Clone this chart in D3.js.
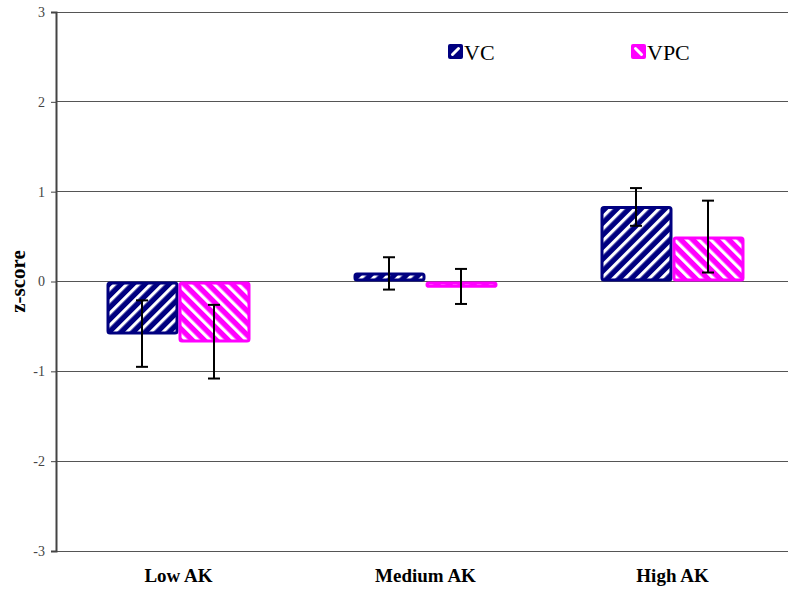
<!DOCTYPE html>
<html>
<head>
<meta charset="utf-8">
<script src="https://cdn.jsdelivr.net/npm/d3@7"></script>
<style>
  body { margin: 0; background: #fff; }
  svg { display: block; }
</style>
</head>
<body>
<svg id="chart" width="788" height="590"></svg>
<script>
// Mean z-scores with error bar bounds for each knowledge group
const categories = ["Low AK", "Medium AK", "High AK"];
const seriesNames = ["VC", "VPC"];
const vcValues = [-0.59, 0.10, 0.84];
const vpcValues = [-0.68, -0.07, 0.50];
const vcLow = [-0.95, -0.09, 0.62];
const vcHigh = [-0.21, 0.27, 1.04];
const vpcLow = [-1.08, -0.25, 0.10];
const vpcHigh = [-0.26, 0.14, 0.90];
const yTicks = [-3, -2, -1, 0, 1, 2, 3];

const colors = { VC: "#000080", VPC: "#ff00ff" };

const svg = d3.select("#chart");
const plotLeft = 56, plotTop = 12, plotBottom = 551, plotRight = 797;

const x = d3.scaleBand().domain(categories).range([plotLeft, plotRight]).paddingInner(0).paddingOuter(0);
const xs = d3.scaleBand().domain(seriesNames).range([0, 144]);
const y = d3.scaleLinear().domain([-3, 3]).range([plotBottom, plotTop]);

// Diagonal stripe fills
const defs = svg.append("defs");
function stripe(id, color, angle) {
  const p = defs.append("pattern")
    .attr("id", id).attr("patternUnits", "userSpaceOnUse")
    .attr("width", 8.5).attr("height", 8.5)
    .attr("patternTransform", `rotate(${angle})`);
  p.append("rect").attr("width", 8.5).attr("height", 8.5).attr("fill", color);
  p.append("rect").attr("x", 0).attr("width", 3.2).attr("height", 8.5).attr("fill", "#fff");
}
stripe("pat-VC", colors.VC, 45);
stripe("pat-VPC", colors.VPC, -45);

// Horizontal gridlines
svg.append("g").selectAll("line").data(yTicks).join("line")
  .attr("x1", plotLeft).attr("x2", plotRight)
  .attr("y1", d => y(d)).attr("y2", d => y(d))
  .attr("stroke", "#555").attr("stroke-width", 1)
  .attr("shape-rendering", "crispEdges");

// Y axis
const yAxis = d3.axisLeft(y).tickValues(yTicks).tickSize(5).tickFormat(d => String(d));
const gy = svg.append("g").attr("transform", `translate(${plotLeft},0)`).call(yAxis);
gy.select(".domain").attr("stroke", "#444").attr("stroke-width", 2);
gy.selectAll(".tick line").attr("stroke", "#444");
gy.selectAll(".tick text")
  .attr("font-family", "Liberation Serif, serif").attr("font-size", 14)
  .attr("fill", "#444").attr("dx", -3);

svg.append("text")
  .attr("transform", `translate(25,${y(0)}) rotate(-90)`)
  .attr("text-anchor", "middle")
  .attr("font-family", "Liberation Serif, serif").attr("font-weight", "bold")
  .attr("font-size", 21).attr("fill", "#000")
  .text("z-score");

// Category labels
svg.append("g").selectAll("text").data(categories).join("text")
  .attr("x", d => x(d) + x.bandwidth() / 2 - 1)
  .attr("y", 582)
  .attr("text-anchor", "middle")
  .attr("font-family", "Liberation Serif, serif").attr("font-weight", "bold")
  .attr("font-size", 19).attr("fill", "#000")
  .text(d => d);

// Bars
const rows = [];
categories.forEach((c, i) => {
  rows.push({ cat: c, s: "VC", v: vcValues[i], lo: vcLow[i], hi: vcHigh[i] });
  rows.push({ cat: c, s: "VPC", v: vpcValues[i], lo: vpcLow[i], hi: vpcHigh[i] });
});
const groupOffset = (x.bandwidth() - 144) / 2 - 1;
const bx = d => x(d.cat) + groupOffset + xs(d.s);

svg.append("g").selectAll("rect").data(rows).join("rect")
  .attr("x", d => bx(d) + 1.5)
  .attr("width", xs.bandwidth() - 3)
  .attr("y", d => Math.min(y(d.v), y(0)) + 1.5)
  .attr("height", d => Math.max(Math.abs(y(d.v) - y(0)) - 3, 1))
  .attr("rx", 2)
  .attr("fill", d => `url(#pat-${d.s})`)
  .attr("stroke", d => colors[d.s]).attr("stroke-width", 3);

// Error bars
const eb = svg.append("g").attr("stroke", "#000").attr("stroke-width", 2);
rows.forEach(d => {
  const cx = bx(d) + xs.bandwidth() / 2 - 0.5;
  eb.append("line").attr("x1", cx).attr("x2", cx).attr("y1", y(d.hi)).attr("y2", y(d.lo));
  eb.append("line").attr("x1", cx - 6).attr("x2", cx + 6).attr("y1", y(d.hi)).attr("y2", y(d.hi));
  eb.append("line").attr("x1", cx - 6).attr("x2", cx + 6).attr("y1", y(d.lo)).attr("y2", y(d.lo));
});

// Legend
const legendX = [448, 631];
const lg = svg.append("g");
seriesNames.forEach((s, i) => {
  lg.append("rect").attr("x", legendX[i]).attr("y", 44).attr("width", 15).attr("height", 15)
    .attr("rx", 2).attr("fill", colors[s]);
  const cx = legendX[i] + 7.5, cy = 51.5;
  lg.append("line")
    .attr("x1", cx - 3).attr("y1", s === "VC" ? cy + 3 : cy - 3)
    .attr("x2", cx + 3).attr("y2", s === "VC" ? cy - 3 : cy + 3)
    .attr("stroke", "#fff").attr("stroke-width", 3).attr("stroke-linecap", "round");
  lg.append("text").attr("x", legendX[i] + 16).attr("y", 60)
    .attr("font-family", "Liberation Serif, serif").attr("font-size", 22).attr("fill", "#000")
    .text(s);
});
</script>
</body>
</html>
